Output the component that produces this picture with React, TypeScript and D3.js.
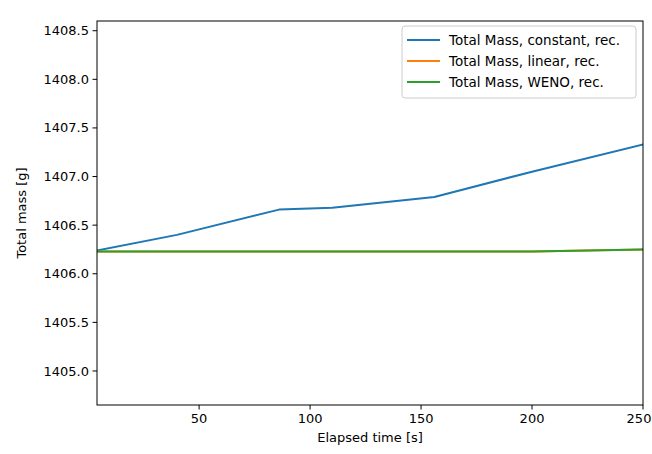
import React from "react";
import * as d3 from "d3";

// Elapsed time samples [s] and the total mass readings for each reconstruction
const timeConstant = [4, 40, 86, 110, 156, 200, 250];
const massConstant = [1406.24, 1406.4, 1406.66, 1406.68, 1406.79, 1407.05, 1407.33];
const timeLinear = [4, 100, 200, 250];
const massLinear = [1406.23, 1406.23, 1406.23, 1406.25];
const timeWeno = [4, 100, 200, 250];
const massWeno = [1406.23, 1406.23, 1406.23, 1406.25];

const seriesNames = [
  "Total Mass, constant, rec.",
  "Total Mass, linear, rec.",
  "Total Mass, WENO, rec.",
];
const seriesColors = ["#1f77b4", "#ff7f0e", "#2ca02c"];

const xTicks = [50, 100, 150, 200, 250];
const yTicks = [1405.0, 1405.5, 1406.0, 1406.5, 1407.0, 1407.5, 1408.0, 1408.5];

const W = 652;
const H = 454;
const M = { left: 97, right: 643, top: 21, bottom: 405 };
const FONT = "'DejaVu Sans', sans-serif";

export default function App() {
  const x = d3.scaleLinear().domain([4, 250]).range([M.left, M.right]);
  const y = d3.scaleLinear().domain([1404.65, 1408.6]).range([M.bottom, M.top]);

  const line = d3
    .line<[number, number]>()
    .x((d) => x(d[0]))
    .y((d) => y(d[1]));

  const series = [
    d3.zip(timeConstant, massConstant) as [number, number][],
    d3.zip(timeLinear, massLinear) as [number, number][],
    d3.zip(timeWeno, massWeno) as [number, number][],
  ];

  const legendX = 402;
  const legendY = 26;
  const legendW = 234;
  const legendH = 72;
  const rowY = [40, 61, 82];

  return (
    <svg
      width={W}
      height={H}
      style={{ position: "absolute", left: 0, top: 0, background: "#fff" }}
      fontFamily={FONT}
    >
      <rect x={0} y={0} width={W} height={H} fill="#fff" />
      <defs>
        <clipPath id="plot-area">
          <rect x={M.left} y={M.top} width={M.right - M.left} height={M.bottom - M.top} />
        </clipPath>
      </defs>

      {/* data lines */}
      <g clipPath="url(#plot-area)">
        {series.map((s, i) => (
          <path
            key={i}
            d={line(s) ?? ""}
            fill="none"
            stroke={seriesColors[i]}
            strokeWidth={2}
            strokeLinejoin="round"
            strokeLinecap="square"
          />
        ))}
      </g>

      {/* frame */}
      <rect
        x={M.left}
        y={M.top}
        width={M.right - M.left}
        height={M.bottom - M.top}
        fill="none"
        stroke="#000"
        strokeWidth={1}
      />

      {/* y ticks */}
      {yTicks.map((t) => (
        <g key={t} transform={`translate(${M.left},${y(t)})`}>
          <line x1={-4.5} x2={0} stroke="#000" strokeWidth={1} />
          <text x={-8} dy="0.35em" textAnchor="end" fontSize={13} fill="#000">
            {t.toFixed(1)}
          </text>
        </g>
      ))}

      {/* x ticks; the last label is kept inside the page edge */}
      {xTicks.map((t) => {
        const px = x(t);
        const labelX = Math.min(0, W - 1 - (px + 12));
        return (
          <g key={t} transform={`translate(${px},${M.bottom})`}>
            <line y1={0} y2={4.5} stroke="#000" strokeWidth={1} />
            <text x={labelX} y={18} textAnchor="middle" fontSize={13} fill="#000">
              {t}
            </text>
          </g>
        );
      })}

      {/* axis labels */}
      <text
        x={(M.left + M.right) / 2}
        y={442}
        textAnchor="middle"
        fontSize={13}
        fill="#000"
      >
        Elapsed time [s]
      </text>
      <text
        transform={`translate(26,${(M.top + M.bottom) / 2}) rotate(-90)`}
        textAnchor="middle"
        fontSize={13}
        fill="#000"
      >
        Total mass [g]
      </text>

      {/* legend */}
      <rect
        x={legendX}
        y={legendY}
        width={legendW}
        height={legendH}
        rx={3}
        fill="#fff"
        fillOpacity={0.8}
        stroke="#cccccc"
        strokeWidth={1}
      />
      {seriesNames.map((name, i) => (
        <g key={name}>
          <line
            x1={407}
            x2={440}
            y1={rowY[i]}
            y2={rowY[i]}
            stroke={seriesColors[i]}
            strokeWidth={2}
          />
          <text x={449} y={rowY[i]} dy="0.35em" fontSize={13.5} fill="#000">
            {name}
          </text>
        </g>
      ))}
    </svg>
  );
}
